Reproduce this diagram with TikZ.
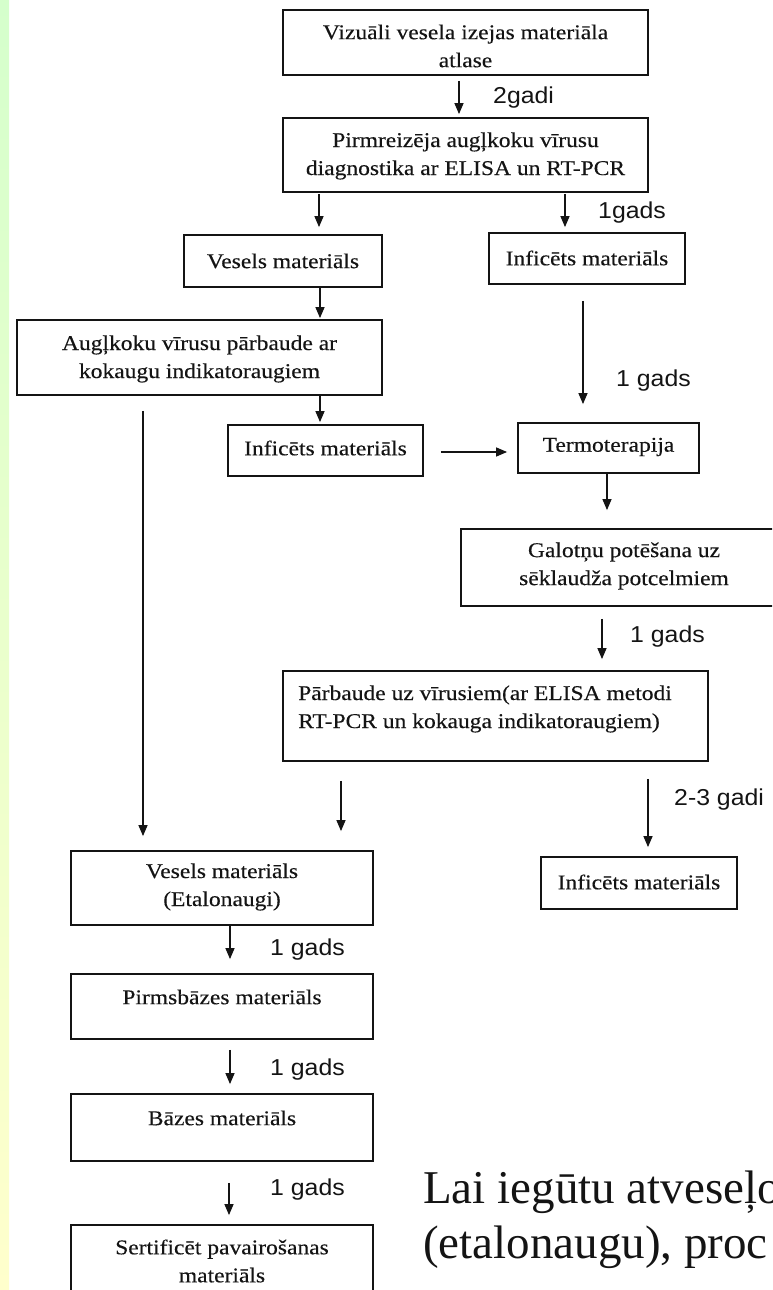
\documentclass[tikz,border=0pt]{standalone}
\usepackage{fontspec}
\usetikzlibrary{arrows.meta,calc}
\newfontfamily\boxfont[FakeStretch=1.12,FakeBold=0.3]{Liberation Serif}
\newfontfamily\lblfont[FakeStretch=1.08]{Liberation Sans}
\newfontfamily\bigfont{Liberation Serif}
\definecolor{ink}{RGB}{20,20,20}
\definecolor{stripgreen}{RGB}{213,255,204}
\definecolor{stripyellow}{RGB}{255,255,204}
\tikzset{
  box/.style={draw=ink, line width=1.8pt, inner sep=0pt},
  btxt/.style={font=\boxfont\fontsize{21}{28}\selectfont, text=ink, align=center, inner sep=0pt},
  lbl/.style={font=\lblfont\fontsize{23}{26}\selectfont, text=ink, anchor=west, inner sep=0pt},
  bigtxt/.style={font=\bigfont\fontsize{47}{56}\selectfont, text=ink, anchor=base west, inner sep=0pt},
  arr/.style={draw=ink, line width=1.4pt, -{Triangle[width=9pt,length=11pt]}},
}
\newcommand\bx[5]{\node[box, minimum width={#4-#2}, minimum height={#5-#3}] (#1) at ({(#2+#4)/2},{(#3+#5)/2}) {};}
\begin{document}
\begin{tikzpicture}[x=1pt,y=-1pt]
\useasboundingbox (0,0) rectangle (772,1290);
\clip (0,0) rectangle (772,1290);
\shade[top color=stripgreen, bottom color=stripyellow] (0,0) rectangle (9,1290);

% boxes
\bx{b1}{283}{10}{648}{75}
\bx{b2}{283}{118}{648}{192}
\bx{b3}{184}{235}{382}{287}
\bx{b4}{489}{233}{685}{284}
\bx{b5}{17}{320}{382}{395}
\bx{b6}{228}{425}{423}{476}
\bx{b7}{518}{423}{699}{473}
\bx{b8}{461}{529}{788}{606}
\bx{b9}{283}{671}{708}{761}
\bx{b10}{71}{851}{373}{925}
\bx{b11}{541}{857}{737}{909}
\bx{b12}{71}{974}{373}{1039}
\bx{b13}{71}{1094}{373}{1161}
\bx{b14}{71}{1225}{373}{1300}

% texts
\node[btxt] (t1) at (465.5,46) {Vizuāli vesela izejas materiāla\\atlase};
\node[btxt] (t2) at (465.5,156) {Pirmreizēja augļkoku vīrusu\\diagnostika ar ELISA un RT-PCR};
\node[btxt] (t3) at (283,261) {Vesels materiāls};
\node[btxt] (t4) at (587,258) {Inficēts materiāls};
\node[btxt] (t5) at (199.5,359) {Augļkoku vīrusu pārbaude ar\\kokaugu indikatoraugiem};
\node[btxt] (t6) at (325.5,448) {Inficēts materiāls};
\node[btxt] (t7) at (608.5,447) {Termoterapija};
\node[btxt] (t8) at (624,566) {Galotņu potēšana uz\\sēklaudža potcelmiem};
\node[btxt, align=left, anchor=west] (t9) at (298,709) {Pārbaude uz vīrusiem(ar ELISA metodi\\RT-PCR un kokauga indikatoraugiem)};
\node[btxt] (t10) at (222,887) {Vesels materiāls\\(Etalonaugi)};
\node[btxt] (t11) at (639,882) {Inficēts materiāls};
\node[btxt] (t12) at (222,997) {Pirmsbāzes materiāls};
\node[btxt] (t13) at (222,1118) {Bāzes materiāls};
\node[btxt] (t14) at (222,1261) {Sertificēt pavairošanas\\materiāls};

% columns
\coordinate (c1) at (459,0);
\coordinate (c2) at (319,0);
\coordinate (c3) at (565,0);
\coordinate (c4) at (320,0);
\coordinate (c5) at (583,0);
\coordinate (c7) at (143,0);
\coordinate (r8) at (0,452);
\coordinate (c9) at (607,0);
\coordinate (c10) at (602,0);
\coordinate (c11) at (341,0);
\coordinate (c12) at (648,0);
\coordinate (c13) at (230,0);
\coordinate (c15) at (229,0);

% arrows
\draw[arr, shorten <=5pt, shorten >=3pt] (b1.south -| c1) -- (b2.north -| c1);
\draw[arr, shorten <=1pt, shorten >=7pt] (b2.south -| c2) -- (b3.north -| c2);
\draw[arr, shorten <=1pt, shorten >=5pt] (b2.south -| c3) -- (b4.north -| c3);
\draw[arr, shorten >=1pt] (b3.south -| c4) -- (b5.north -| c4);
\draw[arr, shorten <=16pt, shorten >=18pt] (b4.south -| c5) -- (b7.north -| c5);
\draw[arr, shorten >=2pt] (b5.south -| c4) -- (b6.north -| c4);
\draw[arr, shorten <=15pt, shorten >=14pt] (b5.south -| c7) -- (b10.north -| c7);
\draw[arr, shorten <=17pt, shorten >=10pt] (b6.east |- r8) -- (b7.west |- r8);
\draw[arr, shorten >=18pt] (b7.south -| c9) -- (b8.north -| c9);
\draw[arr, shorten <=12pt, shorten >=11pt] (b8.south -| c10) -- (b9.north -| c10);
\draw[arr, shorten <=19pt, shorten >=19pt] (b9.south -| c11) -- (b10.north -| c11);
\draw[arr, shorten <=17pt, shorten >=9pt] (b9.south -| c12) -- (b11.north -| c12);
\draw[arr, shorten >=14pt] (b10.south -| c13) -- (b12.north -| c13);
\draw[arr, shorten <=10pt, shorten >=9pt] (b12.south -| c13) -- (b13.north -| c13);
\draw[arr, shorten <=21pt, shorten >=9pt] (b13.south -| c15) -- (b14.north -| c15);

% labels
\node[lbl] (l1) at (493,98) {2gadi};
\node[lbl] (l2) at (598,213) {1gads};
\node[lbl] (l3) at (616,381) {1 gads};
\node[lbl] (l4) at (630,637) {1 gads};
\node[lbl] (l5) at (674,800) {2-3 gadi};
\node[lbl] (l6) at (270,950) {1 gads};
\node[lbl] (l7) at (270,1070) {1 gads};
\node[lbl] (l8) at (270,1190) {1 gads};

% big caption text
\node[bigtxt] (L1) at (423,1203) {Lai iegūtu atveseļo};
\node[bigtxt] (L2) at (423,1258) {(etalonaugu), proc};
\end{tikzpicture}
\end{document}
